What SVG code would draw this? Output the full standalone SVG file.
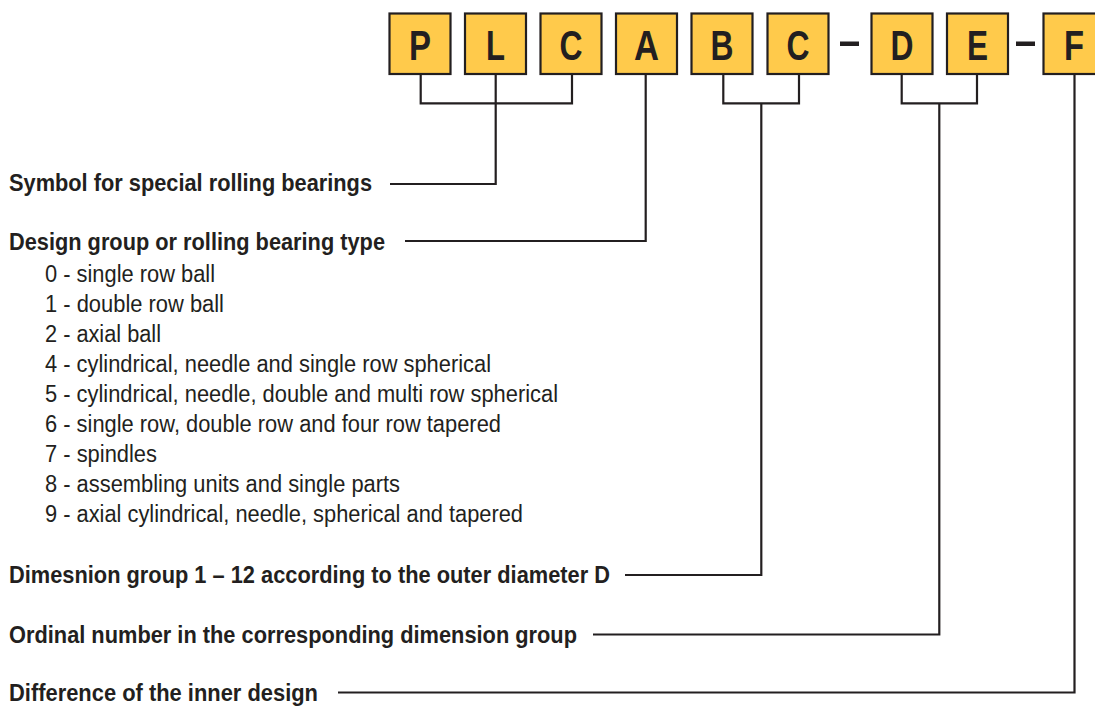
<svg xmlns="http://www.w3.org/2000/svg" width="1095" height="706" viewBox="0 0 1095 706">
<style>
.box{fill:#FFCA4B;stroke:#231F20;stroke-width:2.2}
.let{font-family:"Liberation Sans",Arial,sans-serif;font-weight:bold;font-size:42px;fill:#231F20;text-anchor:middle}
.lbl{font-family:"Liberation Sans",Arial,sans-serif;font-weight:bold;font-size:24.5px;fill:#231F20}
.item{font-family:"Liberation Sans",Arial,sans-serif;font-size:23px;fill:#231F20}
.con{fill:none;stroke:#231F20;stroke-width:2.2}
.dash{fill:#231F20}
</style>
<rect width="1095" height="706" fill="#FFFFFF"/>
<g id="node-P"><rect class="box" x="389.5" y="13.5" width="61" height="60.5"/><text class="let" x="420" y="59.5" textLength="22" lengthAdjust="spacingAndGlyphs">P</text></g>
<g id="node-L"><rect class="box" x="465" y="13.5" width="61" height="60.5"/><text class="let" x="495.5" y="59.5" textLength="19" lengthAdjust="spacingAndGlyphs">L</text></g>
<g id="node-C1"><rect class="box" x="540.5" y="13.5" width="61" height="60.5"/><text class="let" x="571" y="59.5" textLength="23" lengthAdjust="spacingAndGlyphs">C</text></g>
<g id="node-A"><rect class="box" x="616" y="13.5" width="61" height="60.5"/><text class="let" x="646.5" y="59.5" textLength="25" lengthAdjust="spacingAndGlyphs">A</text></g>
<g id="node-B"><rect class="box" x="691.5" y="13.5" width="61" height="60.5"/><text class="let" x="722" y="59.5" textLength="23" lengthAdjust="spacingAndGlyphs">B</text></g>
<g id="node-C2"><rect class="box" x="767.5" y="13.5" width="61" height="60.5"/><text class="let" x="798" y="59.5" textLength="23" lengthAdjust="spacingAndGlyphs">C</text></g>
<g id="node-dash1"><rect class="dash" x="840" y="41.5" width="19" height="4.5"/></g>
<g id="node-D"><rect class="box" x="871.5" y="13.5" width="61" height="60.5"/><text class="let" x="902" y="59.5" textLength="23" lengthAdjust="spacingAndGlyphs">D</text></g>
<g id="node-E"><rect class="box" x="947" y="13.5" width="61" height="60.5"/><text class="let" x="977.5" y="59.5" textLength="21" lengthAdjust="spacingAndGlyphs">E</text></g>
<g id="node-dash2"><rect class="dash" x="1016" y="41.5" width="19" height="4.5"/></g>
<g id="node-F"><rect class="box" x="1043.5" y="13.5" width="61" height="60.5"/><text class="let" x="1074" y="59.5" textLength="20" lengthAdjust="spacingAndGlyphs">F</text></g>

<g id="connectors">
<polyline class="con" points="420.7,74 420.7,103.3 572,103.3 572,74"/>
<polyline class="con" points="495.7,74 495.7,184 390,184"/>
<polyline class="con" points="645.7,74 645.7,241 405,241"/>
<polyline class="con" points="723.3,74 723.3,103.3 799,103.3 799,74"/>
<polyline class="con" points="761.3,103.3 761.3,575 625,575"/>
<polyline class="con" points="901.7,74 901.7,103.3 977,103.3 977,74"/>
<polyline class="con" points="939.3,103.3 939.3,634.5 593,634.5"/>
<polyline class="con" points="1074.5,74 1074.5,692.5 338,692.5"/>
</g>

<g id="node-symbol"><text class="lbl" x="9" y="191" textLength="363" lengthAdjust="spacingAndGlyphs">Symbol for special rolling bearings</text></g>
<g id="node-design">
<text class="lbl" x="9" y="250" textLength="376" lengthAdjust="spacingAndGlyphs">Design group or rolling bearing type</text>
<text class="item" x="45" y="281.5" textLength="170" lengthAdjust="spacingAndGlyphs">0 - single row ball</text>
<text class="item" x="45" y="311.5" textLength="179" lengthAdjust="spacingAndGlyphs">1 - double row ball</text>
<text class="item" x="45" y="341.5" textLength="116" lengthAdjust="spacingAndGlyphs">2 - axial ball</text>
<text class="item" x="45" y="371.5" textLength="446" lengthAdjust="spacingAndGlyphs">4 - cylindrical, needle and single row spherical</text>
<text class="item" x="45" y="401.5" textLength="513" lengthAdjust="spacingAndGlyphs">5 - cylindrical, needle, double and multi row spherical</text>
<text class="item" x="45" y="431.5" textLength="456" lengthAdjust="spacingAndGlyphs">6 - single row, double row and four row tapered</text>
<text class="item" x="45" y="461.5" textLength="112" lengthAdjust="spacingAndGlyphs">7 - spindles</text>
<text class="item" x="45" y="491.5" textLength="355" lengthAdjust="spacingAndGlyphs">8 - assembling units and single parts</text>
<text class="item" x="45" y="521.5" textLength="478" lengthAdjust="spacingAndGlyphs">9 - axial cylindrical, needle, spherical and tapered</text>
</g>
<g id="node-dimension"><text class="lbl" x="9" y="583" textLength="601" lengthAdjust="spacingAndGlyphs">Dimesnion group 1 – 12 according to the outer diameter D</text></g>
<g id="node-ordinal"><text class="lbl" x="9" y="642.5" textLength="568" lengthAdjust="spacingAndGlyphs">Ordinal number in the corresponding dimension group</text></g>
<g id="node-difference"><text class="lbl" x="9" y="700.5" textLength="309" lengthAdjust="spacingAndGlyphs">Difference of the inner design</text></g>
</svg>
